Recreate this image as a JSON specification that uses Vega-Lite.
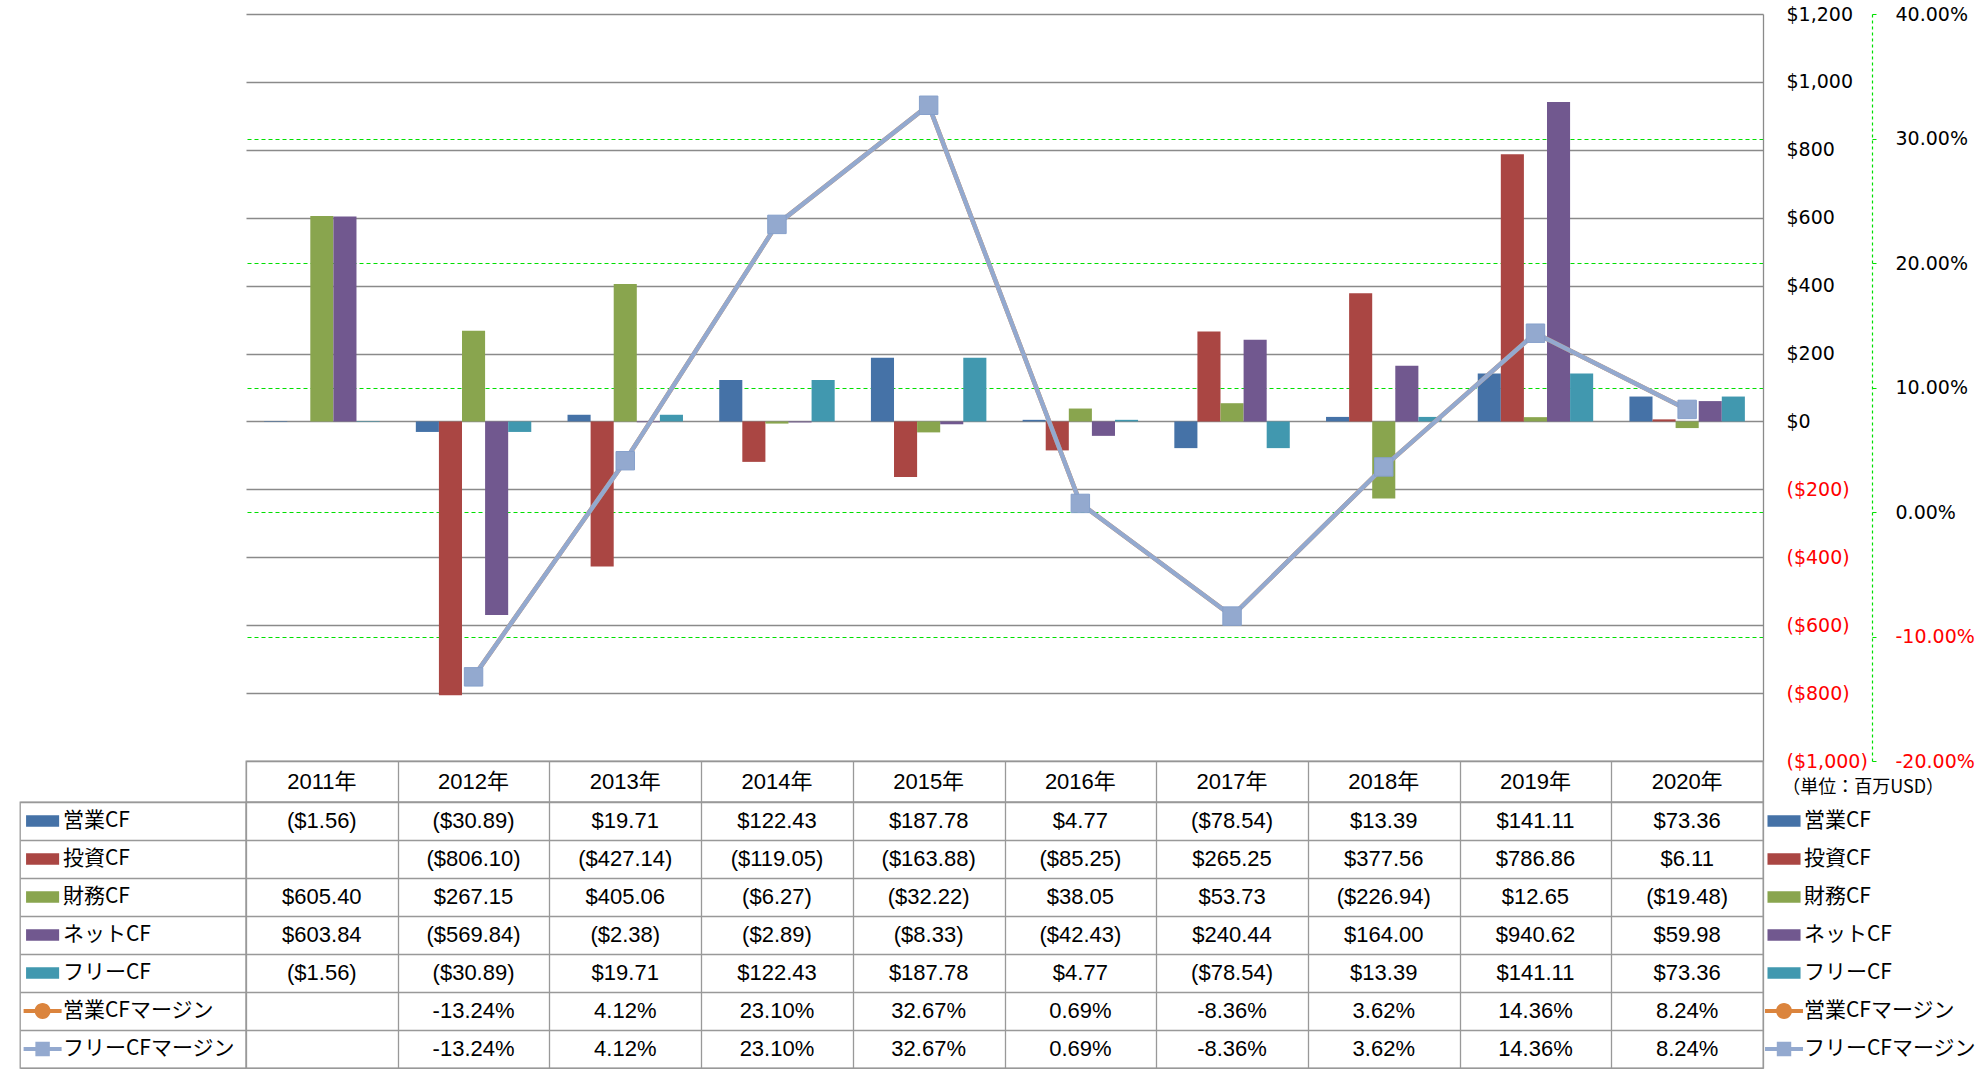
{
  "$schema": "https://vega.github.io/schema/vega-lite/v6.json",
  "padding": {"left": 19, "top": 5, "right": 0, "bottom": 0},
  "background": "white",
  "config": {
    "view": {"stroke": null},
    "locale": {"number": {"decimal": ".", "thousands": ",", "grouping": [3], "currency": ["$", ""], "minus": "-"}}
  },
  "datasets": {
    "t": [
      {"year": "2011年", "series": "営業CF", "kind": "cf", "value": -1.56},
      {"year": "2011年", "series": "財務CF", "kind": "cf", "value": 605.40},
      {"year": "2011年", "series": "ネットCF", "kind": "cf", "value": 603.84},
      {"year": "2011年", "series": "フリーCF", "kind": "cf", "value": -1.56},
      {"year": "2012年", "series": "営業CF", "kind": "cf", "value": -30.89},
      {"year": "2012年", "series": "投資CF", "kind": "cf", "value": -806.10},
      {"year": "2012年", "series": "財務CF", "kind": "cf", "value": 267.15},
      {"year": "2012年", "series": "ネットCF", "kind": "cf", "value": -569.84},
      {"year": "2012年", "series": "フリーCF", "kind": "cf", "value": -30.89},
      {"year": "2012年", "series": "営業CFマージン", "kind": "margin", "value": -0.1324},
      {"year": "2012年", "series": "フリーCFマージン", "kind": "margin", "value": -0.1324},
      {"year": "2013年", "series": "営業CF", "kind": "cf", "value": 19.71},
      {"year": "2013年", "series": "投資CF", "kind": "cf", "value": -427.14},
      {"year": "2013年", "series": "財務CF", "kind": "cf", "value": 405.06},
      {"year": "2013年", "series": "ネットCF", "kind": "cf", "value": -2.38},
      {"year": "2013年", "series": "フリーCF", "kind": "cf", "value": 19.71},
      {"year": "2013年", "series": "営業CFマージン", "kind": "margin", "value": 0.0412},
      {"year": "2013年", "series": "フリーCFマージン", "kind": "margin", "value": 0.0412},
      {"year": "2014年", "series": "営業CF", "kind": "cf", "value": 122.43},
      {"year": "2014年", "series": "投資CF", "kind": "cf", "value": -119.05},
      {"year": "2014年", "series": "財務CF", "kind": "cf", "value": -6.27},
      {"year": "2014年", "series": "ネットCF", "kind": "cf", "value": -2.89},
      {"year": "2014年", "series": "フリーCF", "kind": "cf", "value": 122.43},
      {"year": "2014年", "series": "営業CFマージン", "kind": "margin", "value": 0.2310},
      {"year": "2014年", "series": "フリーCFマージン", "kind": "margin", "value": 0.2310},
      {"year": "2015年", "series": "営業CF", "kind": "cf", "value": 187.78},
      {"year": "2015年", "series": "投資CF", "kind": "cf", "value": -163.88},
      {"year": "2015年", "series": "財務CF", "kind": "cf", "value": -32.22},
      {"year": "2015年", "series": "ネットCF", "kind": "cf", "value": -8.33},
      {"year": "2015年", "series": "フリーCF", "kind": "cf", "value": 187.78},
      {"year": "2015年", "series": "営業CFマージン", "kind": "margin", "value": 0.3267},
      {"year": "2015年", "series": "フリーCFマージン", "kind": "margin", "value": 0.3267},
      {"year": "2016年", "series": "営業CF", "kind": "cf", "value": 4.77},
      {"year": "2016年", "series": "投資CF", "kind": "cf", "value": -85.25},
      {"year": "2016年", "series": "財務CF", "kind": "cf", "value": 38.05},
      {"year": "2016年", "series": "ネットCF", "kind": "cf", "value": -42.43},
      {"year": "2016年", "series": "フリーCF", "kind": "cf", "value": 4.77},
      {"year": "2016年", "series": "営業CFマージン", "kind": "margin", "value": 0.0069},
      {"year": "2016年", "series": "フリーCFマージン", "kind": "margin", "value": 0.0069},
      {"year": "2017年", "series": "営業CF", "kind": "cf", "value": -78.54},
      {"year": "2017年", "series": "投資CF", "kind": "cf", "value": 265.25},
      {"year": "2017年", "series": "財務CF", "kind": "cf", "value": 53.73},
      {"year": "2017年", "series": "ネットCF", "kind": "cf", "value": 240.44},
      {"year": "2017年", "series": "フリーCF", "kind": "cf", "value": -78.54},
      {"year": "2017年", "series": "営業CFマージン", "kind": "margin", "value": -0.0836},
      {"year": "2017年", "series": "フリーCFマージン", "kind": "margin", "value": -0.0836},
      {"year": "2018年", "series": "営業CF", "kind": "cf", "value": 13.39},
      {"year": "2018年", "series": "投資CF", "kind": "cf", "value": 377.56},
      {"year": "2018年", "series": "財務CF", "kind": "cf", "value": -226.94},
      {"year": "2018年", "series": "ネットCF", "kind": "cf", "value": 164.00},
      {"year": "2018年", "series": "フリーCF", "kind": "cf", "value": 13.39},
      {"year": "2018年", "series": "営業CFマージン", "kind": "margin", "value": 0.0362},
      {"year": "2018年", "series": "フリーCFマージン", "kind": "margin", "value": 0.0362},
      {"year": "2019年", "series": "営業CF", "kind": "cf", "value": 141.11},
      {"year": "2019年", "series": "投資CF", "kind": "cf", "value": 786.86},
      {"year": "2019年", "series": "財務CF", "kind": "cf", "value": 12.65},
      {"year": "2019年", "series": "ネットCF", "kind": "cf", "value": 940.62},
      {"year": "2019年", "series": "フリーCF", "kind": "cf", "value": 141.11},
      {"year": "2019年", "series": "営業CFマージン", "kind": "margin", "value": 0.1436},
      {"year": "2019年", "series": "フリーCFマージン", "kind": "margin", "value": 0.1436},
      {"year": "2020年", "series": "営業CF", "kind": "cf", "value": 73.36},
      {"year": "2020年", "series": "投資CF", "kind": "cf", "value": 6.11},
      {"year": "2020年", "series": "財務CF", "kind": "cf", "value": -19.48},
      {"year": "2020年", "series": "ネットCF", "kind": "cf", "value": 59.98},
      {"year": "2020年", "series": "フリーCF", "kind": "cf", "value": 73.36},
      {"year": "2020年", "series": "営業CFマージン", "kind": "margin", "value": 0.0824},
      {"year": "2020年", "series": "フリーCFマージン", "kind": "margin", "value": 0.0824}
    ],
    "unit": [{"label": "（単位：百万USD）"}]
  },
  "columns": 3,
  "spacing": 0,
  "bounds": "flush",
  "align": "each",
  "concat": [
    {"width": 226, "height": 747, "data": {"values": [{}]}, "mark": {"type": "point", "opacity": 0}, "encoding": {}},
    {
      "width": 1517,
      "height": 747,
      "data": {"name": "t"},
      "layer": [
        {
          "transform": [{"filter": "datum.kind == 'cf'"}],
          "mark": {"type": "bar"},
          "encoding": {
            "x": {"field": "year", "type": "nominal", "sort": null, "scale": {"paddingInner": 0.239, "paddingOuter": 0.1195}, "axis": null},
            "xOffset": {"field": "series", "type": "nominal", "scale": {"domain": ["営業CF", "投資CF", "財務CF", "ネットCF", "フリーCF"], "paddingInner": 0, "paddingOuter": 0}},
            "y": {
              "field": "value", "type": "quantitative",
              "scale": {"domain": [-1000, 1200], "nice": false},
              "axis": {
                "orient": "right", "values": [-1000, -800, -600, -400, -200, 0, 200, 400, 600, 800, 1000, 1200],
                "format": "($,.0f", "grid": true, "gridColor": "#8a8a8a", "gridWidth": 1.3,
                "domain": true, "domainColor": "#8a8a8a", "domainWidth": 1.3,
                "ticks": false, "tickSize": 0, "labelPadding": 23,
                "labelFont": "DejaVu Sans", "labelFontSize": 19, "labelAlign": "left", "labelBaseline": "middle",
                "labelColor": {"condition": {"test": "datum.value < 0", "value": "#ff0000"}, "value": "#000000"},
                "labelOverlap": false, "labelBound": false, "title": null
              }
            },
            "color": {
              "field": "series", "type": "nominal",
              "scale": {"domain": ["営業CF", "投資CF", "財務CF", "ネットCF", "フリーCF", "営業CFマージン", "フリーCFマージン"],
                        "range": ["#4572A7", "#AA4643", "#89A54E", "#71588F", "#4198AF", "#DB843D", "#93A9CF"]},
              "legend": null
            }
          }
        },
        {
          "layer": [
            {
              "transform": [{"filter": "datum.series == '営業CFマージン'"}],
              "mark": {"type": "line", "color": "#DB843D", "strokeWidth": 4.5},
              "encoding": {
                "x": {"field": "year", "type": "nominal", "sort": null, "axis": null},
                "y": {
                  "field": "value", "type": "quantitative",
                  "scale": {"domain": [-0.2, 0.4], "nice": false},
                  "axis": {
                    "orient": "right", "offset": 109, "values": [-0.2, -0.1, 0, 0.1, 0.2, 0.3, 0.4],
                    "format": ".2%", "grid": true, "gridColor": "#00e000", "gridDash": [4, 3], "gridWidth": 1.2,
                    "gridOpacity": {"condition": {"test": "datum.value > 0.35 || datum.value < -0.15", "value": 0}, "value": 1},
                    "domain": true, "domainColor": "#00e000", "domainDash": [3, 3], "domainWidth": 1.2,
                    "ticks": true, "tickColor": "#00e000", "tickSize": 4, "labelPadding": 19,
                    "labelFont": "DejaVu Sans", "labelFontSize": 19, "labelAlign": "left", "labelBaseline": "middle",
                    "labelColor": {"condition": {"test": "datum.value < 0", "value": "#ff0000"}, "value": "#000000"},
                    "labelOverlap": false, "labelBound": false, "title": null
                  }
                }
              }
            },
            {
              "transform": [{"filter": "datum.series == '営業CFマージン'"}],
              "mark": {"type": "point", "shape": "circle", "filled": true, "opacity": 1, "size": 230, "color": "#DB843D"},
              "encoding": {
                "x": {"field": "year", "type": "nominal", "sort": null, "axis": null},
                "y": {"field": "value", "type": "quantitative", "scale": {"domain": [-0.2, 0.4], "nice": false}}
              }
            },
            {
              "transform": [{"filter": "datum.series == 'フリーCFマージン'"}],
              "mark": {"type": "line", "color": "#93A9CF", "strokeWidth": 4.5},
              "encoding": {
                "x": {"field": "year", "type": "nominal", "sort": null, "axis": null},
                "y": {"field": "value", "type": "quantitative", "scale": {"domain": [-0.2, 0.4], "nice": false}}
              }
            },
            {
              "transform": [{"filter": "datum.series == 'フリーCFマージン'"}],
              "mark": {"type": "point", "shape": "square", "filled": true, "opacity": 1, "size": 340, "color": "#93A9CF", "stroke": "#86A0CB", "strokeWidth": 1},
              "encoding": {
                "x": {"field": "year", "type": "nominal", "sort": null, "axis": null},
                "y": {"field": "value", "type": "quantitative", "scale": {"domain": [-0.2, 0.4], "nice": false}}
              }
            }
          ]
        }
      ],
      "resolve": {"scale": {"y": "independent"}}
    },
    {"width": 226, "height": 747, "data": {"values": [{}]}, "mark": {"type": "point", "opacity": 0}, "encoding": {}},
    {"width": 226, "height": 41, "data": {"values": [{}]}, "mark": {"type": "point", "opacity": 0}, "encoding": {}},
    {
      "width": 1517,
      "height": 41,
      "data": {"name": "t"},
      "transform": [{"filter": "datum.series == '営業CF'"}],
      "view": {"stroke": "#999999", "strokeWidth": 1.3},
      "mark": {"type": "text", "font": "Liberation Sans, Noto Sans CJK JP, sans-serif", "fontSize": 22, "color": "#000000", "baseline": "middle"},
      "encoding": {
        "x": {"field": "year", "type": "nominal", "sort": null, "scale": {"paddingInner": 0, "paddingOuter": 0},
              "axis": {"grid": true, "tickBand": "extent", "gridColor": "#999999", "gridWidth": 1.3, "domain": false, "labels": false, "ticks": false, "title": null}},
        "text": {"field": "year"}
      }
    },
    {
      "width": 226,
      "height": 41,
      "data": {"name": "unit"},
      "mark": {"type": "text", "align": "left", "baseline": "middle", "font": "Noto Sans CJK JP", "fontSize": 18, "color": "#000000"},
      "encoding": {
        "x": {"datum": 8.5, "type": "quantitative", "scale": {"domain": [0, 100]}, "axis": null},
        "y": {"datum": 66, "type": "quantitative", "scale": {"domain": [100, 0]}, "axis": null},
        "text": {"field": "label"}
      }
    },
    {
      "width": 226,
      "height": 266,
      "data": {"name": "t"},
      "transform": [{"filter": "datum.year == '2020年'"}],
      "view": {"stroke": "#999999", "strokeWidth": 1.3},
      "encoding": {
        "y": {"field": "series", "type": "nominal",
              "scale": {"domain": ["営業CF", "投資CF", "財務CF", "ネットCF", "フリーCF", "営業CFマージン", "フリーCFマージン"], "paddingInner": 0, "paddingOuter": 0},
              "axis": {"grid": true, "tickBand": "extent", "gridColor": "#999999", "gridWidth": 1.3, "domain": false, "labels": false, "ticks": false, "title": null}}
      },
      "layer": [
        {
          "mark": {"type": "point", "filled": true, "opacity": 1, "size": 1444},
          "encoding": {
            "x": {"datum": 10, "type": "quantitative", "scale": {"domain": [0, 100]}, "axis": null},
            "shape": {"field": "series", "type": "nominal",
              "scale": {"domain": ["営業CF", "投資CF", "財務CF", "ネットCF", "フリーCF", "営業CFマージン", "フリーCFマージン"],
                        "range": ["M-0.87,-0.3H0.87V0.3H-0.87Z", "M-0.87,-0.3H0.87V0.3H-0.87Z", "M-0.87,-0.3H0.87V0.3H-0.87Z", "M-0.87,-0.3H0.87V0.3H-0.87Z", "M-0.87,-0.3H0.87V0.3H-0.87Z",
                                  "M-1,-0.1H1V0.1H-1Z M-0.42,0A0.42,0.42,0,1,1,0.42,0A0.42,0.42,0,1,1,-0.42,0Z",
                                  "M-1,-0.1H1V0.1H-1Z M-0.38,-0.38H0.38V0.38H-0.38Z"]},
              "legend": null},
            "color": {"field": "series", "type": "nominal",
              "scale": {"domain": ["営業CF", "投資CF", "財務CF", "ネットCF", "フリーCF", "営業CFマージン", "フリーCFマージン"],
                        "range": ["#4572A7", "#AA4643", "#89A54E", "#71588F", "#4198AF", "#DB843D", "#93A9CF"]},
              "legend": null}
          }
        },
        {
          "mark": {"type": "text", "align": "left", "baseline": "middle", "font": "Noto Sans CJK JP", "fontSize": 21, "color": "#000000"},
          "encoding": {
            "x": {"datum": 19, "type": "quantitative", "scale": {"domain": [0, 100]}, "axis": null},
            "text": {"field": "series"}
          }
        }
      ]
    },
    {
      "width": 1517,
      "height": 266,
      "data": {"name": "t"},
      "view": {"stroke": "#999999", "strokeWidth": 1.3},
      "encoding": {
        "x": {"field": "year", "type": "nominal", "sort": null, "scale": {"paddingInner": 0, "paddingOuter": 0},
              "axis": {"grid": true, "tickBand": "extent", "gridColor": "#999999", "gridWidth": 1.3, "domain": false, "labels": false, "ticks": false, "title": null}},
        "y": {"field": "series", "type": "nominal",
              "scale": {"domain": ["営業CF", "投資CF", "財務CF", "ネットCF", "フリーCF", "営業CFマージン", "フリーCFマージン"], "paddingInner": 0, "paddingOuter": 0},
              "axis": {"grid": true, "tickBand": "extent", "gridColor": "#999999", "gridWidth": 1.3, "domain": false, "labels": false, "ticks": false, "title": null}}
      },
      "layer": [
        {
          "transform": [{"filter": "datum.kind == 'cf'"}],
          "mark": {"type": "text", "font": "Liberation Sans, Noto Sans CJK JP, sans-serif", "fontSize": 22, "color": "#000000", "baseline": "middle"},
          "encoding": {"text": {"field": "value", "type": "quantitative", "format": "($,.2f"}}
        },
        {
          "transform": [{"filter": "datum.kind == 'margin'"}],
          "mark": {"type": "text", "font": "Liberation Sans, Noto Sans CJK JP, sans-serif", "fontSize": 22, "color": "#000000", "baseline": "middle"},
          "encoding": {"text": {"field": "value", "type": "quantitative", "format": ".2%"}}
        }
      ]
    },
    {
      "width": 226,
      "height": 266,
      "data": {"name": "t"},
      "transform": [{"filter": "datum.year == '2020年'"}],
      "encoding": {
        "y": {"field": "series", "type": "nominal",
              "scale": {"domain": ["営業CF", "投資CF", "財務CF", "ネットCF", "フリーCF", "営業CFマージン", "フリーCFマージン"], "paddingInner": 0, "paddingOuter": 0},
              "axis": null}
      },
      "layer": [
        {
          "mark": {"type": "point", "filled": true, "opacity": 1, "size": 1444},
          "encoding": {
            "x": {"datum": 9.3, "type": "quantitative", "scale": {"domain": [0, 100]}, "axis": null},
            "shape": {"field": "series", "type": "nominal",
              "scale": {"domain": ["営業CF", "投資CF", "財務CF", "ネットCF", "フリーCF", "営業CFマージン", "フリーCFマージン"],
                        "range": ["M-0.87,-0.3H0.87V0.3H-0.87Z", "M-0.87,-0.3H0.87V0.3H-0.87Z", "M-0.87,-0.3H0.87V0.3H-0.87Z", "M-0.87,-0.3H0.87V0.3H-0.87Z", "M-0.87,-0.3H0.87V0.3H-0.87Z",
                                  "M-1,-0.1H1V0.1H-1Z M-0.42,0A0.42,0.42,0,1,1,0.42,0A0.42,0.42,0,1,1,-0.42,0Z",
                                  "M-1,-0.1H1V0.1H-1Z M-0.38,-0.38H0.38V0.38H-0.38Z"]},
              "legend": null},
            "color": {"field": "series", "type": "nominal",
              "scale": {"domain": ["営業CF", "投資CF", "財務CF", "ネットCF", "フリーCF", "営業CFマージン", "フリーCFマージン"],
                        "range": ["#4572A7", "#AA4643", "#89A54E", "#71588F", "#4198AF", "#DB843D", "#93A9CF"]},
              "legend": null}
          }
        },
        {
          "mark": {"type": "text", "align": "left", "baseline": "middle", "font": "Noto Sans CJK JP", "fontSize": 21, "color": "#000000"},
          "encoding": {
            "x": {"datum": 18.1, "type": "quantitative", "scale": {"domain": [0, 100]}, "axis": null},
            "text": {"field": "series"}
          }
        }
      ]
    }
  ]
}
